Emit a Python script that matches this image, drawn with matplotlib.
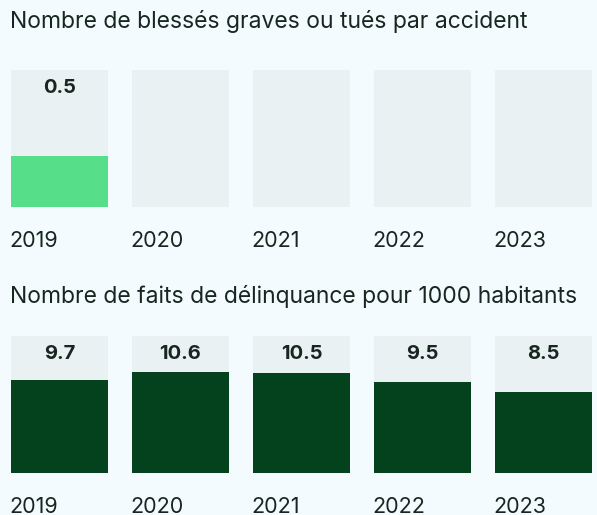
import matplotlib
matplotlib.use("Agg")
import matplotlib.pyplot as plt
import numpy as np

years = ["2019", "2020", "2021", "2022", "2023"]
blesses = [0.5, None, None, None, None]
delinquance = [9.7, 10.6, 10.5, 9.5, 8.5]

titles = ["Nombre de blessés graves ou tués par accident",
          "Nombre de faits de délinquance pour 1000 habitants"]

BG = "#f3fbfe"
TRACK = "#eaf1f2"
TEXT = "#17261f"

plt.rcParams['font.family'] = ['Inter', 'DejaVu Sans']

W, H = 597, 515
fig = plt.figure(figsize=(W / 100, H / 100), dpi=100)
fig.patch.set_facecolor(BG)

pitch = 121.0
bar_w = 97.0 / pitch
left_px, right_px = 11, 592


def panel(top_px, bottom_px, values, ymax, color, title, title_base):
    ax = fig.add_axes([left_px / W, 1 - bottom_px / H,
                       (right_px - left_px) / W, (bottom_px - top_px) / H])
    ax.set_facecolor(BG)
    x = np.arange(len(years))
    # grey track behind each bar, then the value on top of it
    ax.bar(x, [ymax] * len(years), width=bar_w, color=TRACK, linewidth=0)
    vals = [v if v is not None else 0 for v in values]
    ax.bar(x, vals, width=bar_w, color=color, linewidth=0)
    ax.set_xlim(-bar_w / 2, len(years) - 1 + bar_w / 2)
    ax.set_ylim(0, ymax)
    ax.axis("off")
    for i, v in enumerate(values):
        if v is not None:
            ax.annotate(f"{v}", xy=(i, 1), xycoords=("data", "axes fraction"),
                        xytext=(0, -16.5), textcoords="offset points",
                        ha="center", va="baseline", fontsize=14.5,
                        fontweight="bold", color=TEXT)
        ax.annotate(years[i], xy=(i - bar_w / 2, 0),
                    xycoords=("data", "axes fraction"),
                    xytext=(-1, -29), textcoords="offset points",
                    ha="left", va="baseline", fontsize=15.5, color=TEXT)
    fig.text(10 / W, 1 - title_base / H, title, ha="left", va="baseline",
             fontsize=16.5, color=TEXT)


panel(70, 207, blesses, 1.35, "#56df88", titles[0], 28)
panel(336, 473, delinquance, 14.35, "#03421c", titles[1], 303)

fig.savefig("out.png", dpi=100, facecolor=BG)
